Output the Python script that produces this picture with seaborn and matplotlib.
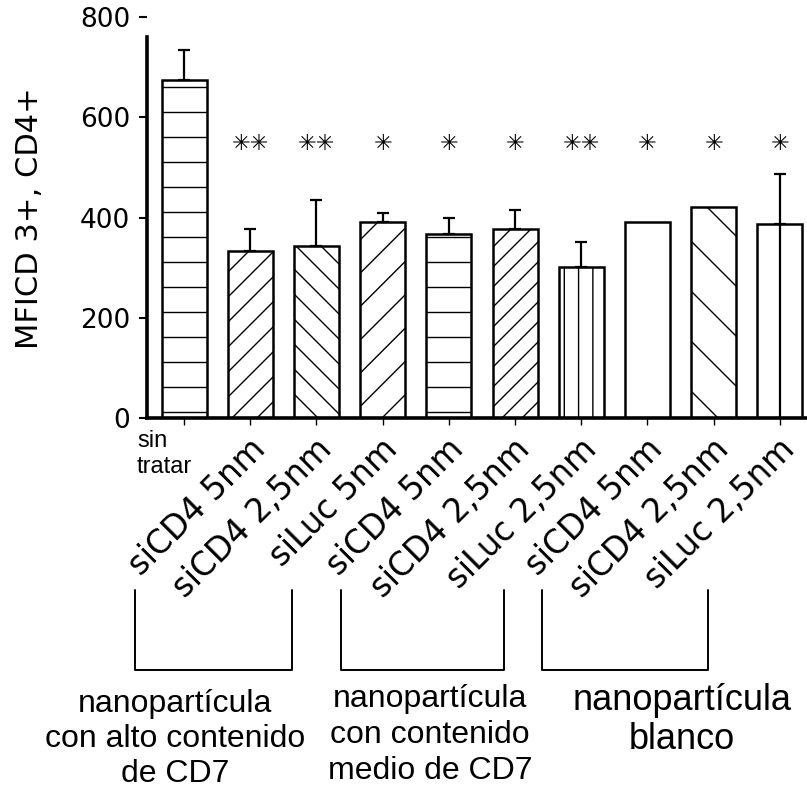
import numpy as np
import pandas as pd
import matplotlib
matplotlib.use("Agg")
import matplotlib.pyplot as plt
import matplotlib.transforms as mtransforms
from matplotlib import hatch as mhatch
from matplotlib.backend_bases import GraphicsContextBase
import seaborn as sns

# ---- data -------------------------------------------------------------
condiciones = ["control", "alto_siCD4_5", "alto_siCD4_25", "alto_siLuc_5",
               "medio_siCD4_5", "medio_siCD4_25", "medio_siLuc_25",
               "blanco_siCD4_5", "blanco_siCD4_25", "blanco_siLuc_25"]
etiquetas = ["sin\ntratar", "siCD4 5nm", "siCD4 2,5nm", "siLuc 5nm",
             "siCD4 5nm", "siCD4 2,5nm", "siLuc 2,5nm",
             "siCD4 5nm", "siCD4 2,5nm", "siLuc 2,5nm"]
mfi = [675, 333, 343, 391, 367, 377, 301, 391, 421, 387]
error_sup = [60, 44, 92, 18, 32, 38, 50, np.nan, np.nan, 100]
significancia = ["", "✳✳", "✳✳", "✳", "✳", "✳", "✳✳", "✳", "✳", "✳"]
tramas = ["----", "/" * 8, "\\" * 8, "/" * 6, "----", "/" * 10, "|||||||", "",
          "\\" * 4, ""]
grupos = ["nanopartícula\ncon alto contenido\nde CD7",
          "nanopartícula\ncon contenido\nmedio de CD7",
          "nanopartícula\nblanco"]
yticks = [0, 200, 400, 600, 800]

# sparser hatching: one line per hatch character per hatch unit
def _hatch_path(self, density=1.0):
    h = self.get_hatch()
    if h is None:
        return None
    return mhatch.get_path(h, 1.0)
GraphicsContextBase.get_hatch_path = _hatch_path

sns.set_theme(style="ticks")
plt.rcParams["font.family"] = ["DejaVu Sans"]
plt.rcParams["hatch.linewidth"] = 1.0
plt.rcParams["hatch.color"] = "black"

W, H, DPI = 807, 789, 100
fig = plt.figure(figsize=(W / DPI, H / DPI), dpi=DPI)
ax = fig.add_axes([147 / W, 1 - 418 / H, (W - 147) / W, (418 - 17) / H])

df = pd.DataFrame({"condicion": condiciones, "mfi": mfi})
sns.barplot(data=df, x="condicion", y="mfi", order=condiciones, color="white",
            saturation=1, edgecolor="black", linewidth=1.8, width=0.68,
            errorbar=None, ax=ax, zorder=2)
for patch, trama in zip(ax.patches, tramas):
    patch.set_hatch(trama)

x = np.arange(len(mfi))
y = np.array(mfi, float)
err = np.array(error_sup, float)
m = ~np.isnan(err)
ax.errorbar(x[m], y[m], yerr=[np.zeros(m.sum()), err[m]], fmt="none",
            ecolor="black", elinewidth=1.6, capsize=4.5, capthick=1.6, zorder=3)
# whisker of the last bar runs down through the open bar
ax.vlines(x[-1], 0, y[-1], color="black", lw=1.6, zorder=3)

# significance marks
for xi, s in zip(x, significancia):
    if s:
        ax.text(xi, 546, s, ha="center", va="center", fontsize=16,
                color="black", family=["DejaVu Sans"])

ax.set_xlim(-0.56, 9.41)
ax.set_ylim(0, 800)
ax.set_yticks(yticks)
ax.set_xticks(x)
ax.set_xticklabels([])
ax.set_xlabel("")
ax.set_ylabel("")
ax.tick_params(axis="y", length=6, width=1.5, pad=6, labelsize=19, colors="black")
ax.tick_params(axis="x", length=5, width=1.0, colors="black")
sns.despine(ax=ax)
ax.spines["left"].set_linewidth(2.6)
ax.spines["bottom"].set_linewidth(2.6)
ax.spines["left"].set_bounds(0, 760)
ax.spines["left"].set_color("black")
ax.spines["bottom"].set_color("black")

fig.text(30 / W, 1 - 218 / H, "MFICD 3+, CD4+", rotation=90, ha="center",
         va="center", fontsize=22, color="black")

# category labels under the axis
def shifted(dx_px, dy_px):
    return ax.transData + mtransforms.ScaledTranslation(dx_px / DPI, dy_px / DPI,
                                                        fig.dpi_scale_trans)

ax.text(x[0], 0, etiquetas[0], transform=shifted(-47, -12), ha="left", va="top",
        fontsize=17, linespacing=1.25, family=["Liberation Sans"], color="black")
for xi, lab in zip(x[1:], etiquetas[1:]):
    ax.text(xi, 0, lab, transform=shifted(10, -26), rotation=45,
            rotation_mode="anchor", ha="right", va="center", fontsize=23.5,
            color="black")

# group brackets
corchetes = [(-0.74, 1.63), (2.37, 4.83), (5.41, 7.92)]
blend = mtransforms.blended_transform_factory(ax.transData, fig.transFigure)
y_top, y_bot = 1 - 590 / H, 1 - 670 / H
for x0, x1 in corchetes:
    ax.plot([x0, x0, x1, x1], [y_top, y_bot, y_bot, y_top], transform=blend,
            color="black", lw=1.4, clip_on=False)

# group captions
pos_grupos = [(175, 739, 23, 1.22), (430, 735, 23, 1.25), (682, 720, 26, 1.17)]
for texto, (gx, gy, fs, ls) in zip(grupos, pos_grupos):
    fig.text(gx / W, 1 - gy / H, texto, ha="center", va="center", fontsize=fs,
             linespacing=ls, multialignment="center",
             family=["Liberation Sans"], color="black")

fig.savefig("out.png", dpi=DPI, facecolor="white")
